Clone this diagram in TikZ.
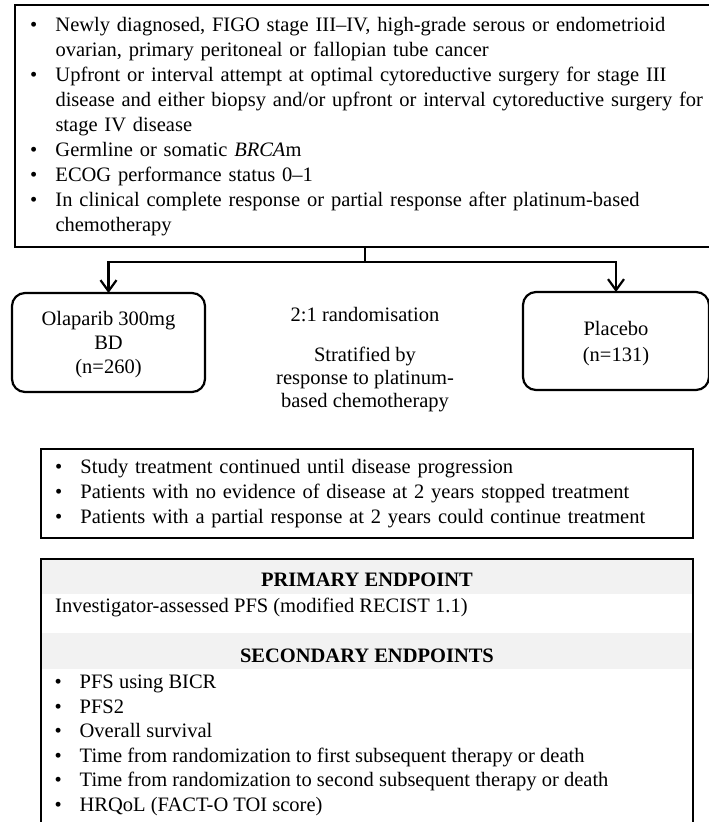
\documentclass[tikz,border=0pt]{standalone}
\usepackage{fontspec}
\setmainfont{Liberation Serif}
\usetikzlibrary{arrows.meta,positioning}
\definecolor{trialInk}{HTML}{000000}
\definecolor{trialBand}{HTML}{F2F2F2}
\tikzset{
  every picture/.style={font=\fontsize{20.5}{25}\selectfont, text=trialInk},
  trial box/.style={draw=trialInk, line width=2.2pt, fill=white, inner sep=0pt,
    outer sep=0pt, align=left},
  arm box/.style={draw=trialInk, line width=2.2pt, rounded corners=13pt,
    outer sep=0pt, align=center},
  trial line/.style={draw=trialInk, line width=2.2pt},
  trial arrow/.style={-{Straight Barb[length=11pt,width=16pt]},
    draw=trialInk, line width=2.2pt},
  band/.style={fill=trialBand, inner sep=0pt, outer sep=0pt, minimum width=650pt},
  head label/.style={font=\fontsize{20.5}{25}\selectfont\bfseries, inner sep=0pt},
  plain label/.style={align=center, inner sep=0pt}
}

\begin{document}
\begin{tikzpicture}[x=1pt,y=-1pt]
  \useasboundingbox (0,0) rectangle (709,822);
  % eligibility
  \node[trial box, anchor=north west, minimum width=702pt, minimum height=242pt,
    text width=672pt, inner xsep=14.5pt] (incl) at (15,5) {%
    \begin{tabular}{@{}p{25.5pt}@{}l@{}}
      \textbullet & Newly diagnosed, FIGO stage III--IV, high-grade serous or endometrioid\\
      & ovarian, primary peritoneal or fallopian tube cancer\\
      \textbullet & Upfront or interval attempt at optimal cytoreductive surgery for stage III\\
      & disease and either biopsy and/or upfront or interval cytoreductive surgery for\\
      & stage IV disease\\
      \textbullet & Germline or somatic \textit{BRCA}m\\
      \textbullet & ECOG performance status 0--1\\
      \textbullet & In clinical complete response or partial response after platinum-based\\
      & chemotherapy
    \end{tabular}};
  % arms
  \node[arm box, minimum width=193pt, minimum height=99pt,
    font=\fontsize{20.5}{24}\selectfont] (olap) at (108.5,342.5) {\\[-6pt]Olaparib 300mg\\BD\\(n=260)};
  \node[arm box, minimum width=186pt, minimum height=98pt,
    font=\fontsize{20.5}{26}\selectfont] (placebo) at (616,341) {\\[-6pt]Placebo\\(n=131)};
  \node[plain label] (rand) at (365,315) {2:1 randomisation};
  \node[plain label, font=\fontsize{20.5}{23}\selectfont] (strat) at (365,379)
    {Stratified by\\response to platinum-\\based chemotherapy};
  \coordinate (split) at (365,262);
  \draw[trial line] (incl.south -| split) -- (split);
  \draw[trial arrow] (split) -| (olap.north);
  \draw[trial arrow] (split) -| (placebo.north);
  % treatment
  \node[trial box, anchor=north west, minimum width=652pt, minimum height=89pt,
    text width=624pt, inner xsep=13.5pt] (follow) at (41,449) {%
    \begin{tabular}{@{}p{25.5pt}@{}l@{}}
      \textbullet & Study treatment continued until disease progression\\
      \textbullet & Patients with no evidence of disease at 2 years stopped treatment\\
      \textbullet & Patients with a partial response at 2 years could continue treatment
    \end{tabular}};
  % endpoints
  \node[trial box, anchor=north west, minimum width=652pt, minimum height=280pt] (endp) at (41,559) {};
  \node[band, anchor=north west, minimum height=34pt] (primband) at (42,560) {};
  \node[band, anchor=north west, minimum height=36pt] (secband) at (42,633) {};
  \node[head label] (primhead) at (367,580) {PRIMARY ENDPOINT};
  \node[plain label, anchor=west] (primtext) at (55,607) {Investigator-assessed PFS (modified RECIST 1.1)};
  \node[head label] (sechead) at (367,656) {SECONDARY ENDPOINTS};
  \node[anchor=north west, inner sep=0pt, font=\fontsize{20.5}{24.6}\selectfont] (seclist) at (54.5,671) {%
    \begin{tabular}{@{}p{25pt}@{}l@{}}
      \textbullet & PFS using BICR\\
      \textbullet & PFS2\\
      \textbullet & Overall survival\\
      \textbullet & Time from randomization to first subsequent therapy or death\\
      \textbullet & Time from randomization to second subsequent therapy or death\\
      \textbullet & HRQoL (FACT-O TOI score)
    \end{tabular}};
\end{tikzpicture}
\end{document}
